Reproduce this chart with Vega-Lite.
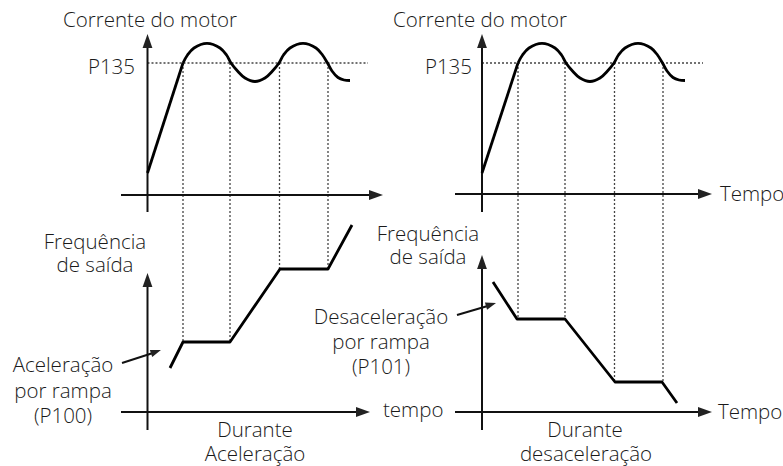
{
  "$schema": "https://vega.github.io/schema/vega-lite/v6.json",
  "width": 783,
  "height": 466,
  "padding": 0,
  "autosize": {"type": "none"},
  "background": "white",
  "config": {
    "view": {"stroke": null},
    "text": {"font": "Open Sans", "fontWeight": 300, "fontSize": 20.5, "color": "#1a1a1a", "baseline": "alphabetic"}
  },
  "datasets": {
    "wave": [
      {"s": "L", "x": 183, "y": 63}, {"s": "L", "x": 187.5, "y": 55}, {"s": "L", "x": 194, "y": 48},
      {"s": "L", "x": 207, "y": 43.3}, {"s": "L", "x": 220, "y": 48}, {"s": "L", "x": 226.5, "y": 55},
      {"s": "L", "x": 231, "y": 63}, {"s": "L", "x": 237.5, "y": 71}, {"s": "L", "x": 245, "y": 78},
      {"s": "L", "x": 255, "y": 81.5}, {"s": "L", "x": 265, "y": 78}, {"s": "L", "x": 272.5, "y": 71},
      {"s": "L", "x": 279, "y": 63}, {"s": "L", "x": 283.5, "y": 55}, {"s": "L", "x": 290, "y": 48},
      {"s": "L", "x": 303, "y": 43.3}, {"s": "L", "x": 316, "y": 48}, {"s": "L", "x": 322.5, "y": 55},
      {"s": "L", "x": 327.5, "y": 63}, {"s": "L", "x": 332, "y": 71}, {"s": "L", "x": 338, "y": 77.5},
      {"s": "L", "x": 344, "y": 80}, {"s": "L", "x": 350, "y": 80.5},
      {"s": "R", "x": 518, "y": 63}, {"s": "R", "x": 522.5, "y": 55}, {"s": "R", "x": 529, "y": 48},
      {"s": "R", "x": 542, "y": 43.3}, {"s": "R", "x": 555, "y": 48}, {"s": "R", "x": 561.5, "y": 55},
      {"s": "R", "x": 566, "y": 63}, {"s": "R", "x": 572.5, "y": 71}, {"s": "R", "x": 580, "y": 78},
      {"s": "R", "x": 590, "y": 81.5}, {"s": "R", "x": 600, "y": 78}, {"s": "R", "x": 607.5, "y": 71},
      {"s": "R", "x": 614, "y": 63}, {"s": "R", "x": 618.5, "y": 55}, {"s": "R", "x": 625, "y": 48},
      {"s": "R", "x": 638, "y": 43.3}, {"s": "R", "x": 651, "y": 48}, {"s": "R", "x": 657.5, "y": 55},
      {"s": "R", "x": 662.5, "y": 63}, {"s": "R", "x": 667, "y": 71}, {"s": "R", "x": 673, "y": 77.5},
      {"s": "R", "x": 679, "y": 80}, {"s": "R", "x": 685, "y": 80.5}
    ],
    "ramps": [
      {"s": "cL", "x": 147.5, "y": 173}, {"s": "cL", "x": 183, "y": 63},
      {"s": "cR", "x": 482, "y": 173}, {"s": "cR", "x": 518, "y": 63},
      {"s": "fL", "x": 170, "y": 368}, {"s": "fL", "x": 183, "y": 342}, {"s": "fL", "x": 230, "y": 342},
      {"s": "fL", "x": 280, "y": 269}, {"s": "fL", "x": 328, "y": 269}, {"s": "fL", "x": 352, "y": 225},
      {"s": "fR", "x": 493, "y": 282}, {"s": "fR", "x": 517, "y": 319}, {"s": "fR", "x": 565, "y": 319},
      {"s": "fR", "x": 615, "y": 382}, {"s": "fR", "x": 662, "y": 382}, {"s": "fR", "x": 677, "y": 403}
    ],
    "axes": [
      {"x": 147.5, "y": 46, "x2": 147.5, "y2": 212},
      {"x": 121, "y": 195, "x2": 370, "y2": 195},
      {"x": 482, "y": 46, "x2": 482, "y2": 212},
      {"x": 455, "y": 194, "x2": 699, "y2": 194},
      {"x": 147.5, "y": 285, "x2": 147.5, "y2": 430},
      {"x": 121, "y": 412, "x2": 357, "y2": 412},
      {"x": 482, "y": 267, "x2": 482, "y2": 430},
      {"x": 455, "y": 412, "x2": 699, "y2": 412},
      {"x": 122, "y": 363, "x2": 156, "y2": 352},
      {"x": 457, "y": 315, "x2": 491, "y2": 305}
    ],
    "dots": [
      {"x": 147.5, "y": 63, "x2": 368, "y2": 63},
      {"x": 482, "y": 63, "x2": 703, "y2": 63},
      {"x": 183, "y": 63, "x2": 183, "y2": 342},
      {"x": 230, "y": 63, "x2": 230, "y2": 342},
      {"x": 279.5, "y": 63, "x2": 279.5, "y2": 269},
      {"x": 328, "y": 63, "x2": 328, "y2": 269},
      {"x": 518, "y": 63, "x2": 518, "y2": 319},
      {"x": 565, "y": 63, "x2": 565, "y2": 319},
      {"x": 614.5, "y": 63, "x2": 614.5, "y2": 382},
      {"x": 663, "y": 63, "x2": 663, "y2": 382}
    ],
    "heads": [
      {"x": 147.5, "y": 41, "a": -90},
      {"x": 482, "y": 41, "a": -90},
      {"x": 147.5, "y": 280, "a": -90},
      {"x": 482, "y": 262, "a": -90},
      {"x": 376, "y": 195, "a": 0},
      {"x": 705, "y": 194, "a": 0},
      {"x": 363, "y": 412, "a": 0},
      {"x": 705, "y": 412, "a": 0}
    ],
    "smallheads": [
      {"x": 156, "y": 351.8, "a": -19},
      {"x": 491, "y": 304.6, "a": -17}
    ],
    "textLeft": [
      {"x": 63, "y": 27, "t": "Corrente do motor"},
      {"x": 393, "y": 27, "t": "Corrente do motor"},
      {"x": 720, "y": 201, "t": "Tempo"},
      {"x": 718, "y": 419, "t": "Tempo"},
      {"x": 383, "y": 417, "t": "tempo"}
    ],
    "textRight": [
      {"x": 135, "y": 74, "t": "P135"},
      {"x": 472, "y": 74, "t": "P135"}
    ],
    "textCenter": [
      {"x": 95, "y": 249, "t": "Frequência"},
      {"x": 95, "y": 272, "t": "de saída"},
      {"x": 428, "y": 241, "t": "Frequência"},
      {"x": 428, "y": 264, "t": "de saída"},
      {"x": 63, "y": 372, "t": "Aceleração"},
      {"x": 63, "y": 398, "t": "por rampa"},
      {"x": 63, "y": 423, "t": "(P100)"},
      {"x": 381, "y": 324, "t": "Desaceleração"},
      {"x": 381, "y": 349, "t": "por rampa"},
      {"x": 381, "y": 374, "t": "(P101)"},
      {"x": 255, "y": 437, "t": "Durante"},
      {"x": 255, "y": 461, "t": "Aceleração"},
      {"x": 585, "y": 437, "t": "Durante"},
      {"x": 586, "y": 461, "t": "desaceleração"}
    ]
  },
  "encoding": {
    "x": {"field": "x", "type": "quantitative", "scale": {"domain": [0, 783], "nice": false, "zero": false}, "axis": null},
    "y": {"field": "y", "type": "quantitative", "scale": {"domain": [0, 466], "nice": false, "zero": false, "reverse": true}, "axis": null}
  },
  "layer": [
    {
      "data": {"name": "dots"},
      "mark": {"type": "rule", "strokeDash": [2, 2], "strokeWidth": 1.3, "color": "#444"},
      "encoding": {"x2": {"field": "x2"}, "y2": {"field": "y2"}}
    },
    {
      "data": {"name": "axes"},
      "mark": {"type": "rule", "strokeWidth": 2, "color": "#111"},
      "encoding": {"x2": {"field": "x2"}, "y2": {"field": "y2"}}
    },
    {
      "data": {"name": "ramps"},
      "mark": {"type": "line", "interpolate": "linear", "strokeWidth": 2.8, "color": "#000", "strokeJoin": "round", "strokeCap": "butt"},
      "encoding": {"detail": {"field": "s"}}
    },
    {
      "data": {"name": "wave"},
      "mark": {"type": "line", "interpolate": "catmull-rom", "strokeWidth": 2.8, "color": "#000", "strokeCap": "butt"},
      "encoding": {"detail": {"field": "s"}}
    },
    {
      "data": {"name": "heads"},
      "mark": {"type": "point", "shape": "M-1,-0.7L1,0L-1,0.7Z", "filled": true, "color": "#222", "opacity": 1, "size": 196, "strokeWidth": 0},
      "encoding": {"angle": {"field": "a", "type": "quantitative", "scale": null}}
    },
    {
      "data": {"name": "smallheads"},
      "mark": {"type": "point", "shape": "M-1,-0.7L1,0L-1,0.7Z", "filled": true, "color": "#222", "opacity": 1, "size": 110, "strokeWidth": 0},
      "encoding": {"angle": {"field": "a", "type": "quantitative", "scale": null}}
    },
    {
      "data": {"name": "textLeft"},
      "mark": {"type": "text", "align": "left"},
      "encoding": {"text": {"field": "t"}}
    },
    {
      "data": {"name": "textRight"},
      "mark": {"type": "text", "align": "right"},
      "encoding": {"text": {"field": "t"}}
    },
    {
      "data": {"name": "textCenter"},
      "mark": {"type": "text", "align": "center"},
      "encoding": {"text": {"field": "t"}}
    }
  ]
}
